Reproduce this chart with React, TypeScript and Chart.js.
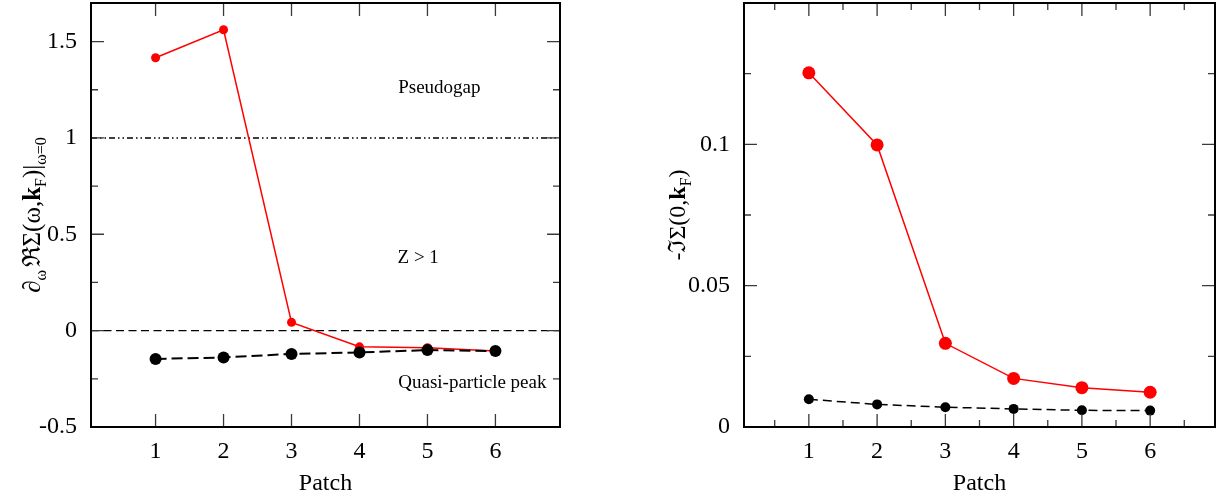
import { useEffect, useRef } from "react";
import { Chart, registerables } from "chart.js";

Chart.register(...registerables);

// Patch index along the Fermi surface
const patches = [1, 2, 3, 4, 5, 6];

// Left panel: frequency derivative of the real part of the self-energy at omega = 0
const reDerivPseudogap = [1.416, 1.561, 0.043, -0.084, -0.089, -0.106];
const reDerivQuasi = [-0.147, -0.139, -0.121, -0.113, -0.101, -0.106];

// Right panel: minus the imaginary part of the self-energy at omega = 0
const imSelfPseudogap = [0.1253, 0.0998, 0.0296, 0.0172, 0.0139, 0.0123];
const imSelfQuasi = [0.0098, 0.008, 0.007, 0.0064, 0.0059, 0.0058];

// Axis ticks
const patchTicks = [1, 2, 3, 4, 5, 6];
const patchTickLabels = ["1", "2", "3", "4", "5", "6"];
const patchMinorLeft: number[] = [];
const patchMinorRight = [0.5, 1.5, 2.5, 3.5, 4.5, 5.5, 6.5];
const leftYTicks = [-0.5, 0, 0.5, 1, 1.5];
const leftYTickLabels = ["-0.5", "0", "0.5", "1", "1.5"];
const leftYMinor = [-0.25, 0.25, 0.75, 1.25];
const rightYTicks = [0, 0.05, 0.1];
const rightYTickLabels = ["0", "0.05", "0.1"];
const rightYMinor = [0.025, 0.075, 0.125];

// Reference levels in the left panel
const unityLevel = 1;
const zeroLevel = 0;

// Region labels in the left panel
const regionLabels = ["Pseudogap", "Z > 1", "Quasi-particle peak"];
const regionLabelX = [4.57, 4.56, 4.57];
const regionLabelY = [1.231, 0.352, -0.3];

const X_MIN = 0.05;
const X_MAX = 6.95;

const SERIF = '"Liberation Serif", "Times New Roman", "DejaVu Serif", serif';
const MATH = '"Liberation Serif", "DejaVu Serif", serif';

type Seg = { text: string; px: number; bold?: boolean; dy?: number };

const leftYTitle: Seg[] = [
  { text: "\u2202", px: 25 },
  { text: "\u03c9", px: 16, dy: 6 },
  { text: " ", px: 10 },
  { text: "\u211c\u03a3(\u03c9,", px: 25 },
  { text: "k", px: 25, bold: true },
  { text: "F", px: 16, dy: 6 },
  { text: ")|", px: 25 },
  { text: "\u03c9=0", px: 16, dy: 6 },
];

const rightYTitle: Seg[] = [
  { text: "-\u2111\u03a3(0,", px: 24 },
  { text: "k", px: 24, bold: true },
  { text: "F", px: 16, dy: 6 },
  { text: ")", px: 24 },
];

const toXY = (xs: number[], ys: number[]) => xs.map((x, i) => ({ x, y: ys[i] }));

// Frame with inward major/minor ticks on all four sides
function makeFramePlugin(xMajor: number[], xMinor: number[], yMajor: number[], yMinor: number[]) {
  return {
    id: "frameTicks",
    afterDatasetsDraw(chart: any) {
      const { ctx, chartArea: a, scales } = chart;
      const xs = scales.x;
      const ys = scales.y;
      ctx.save();
      ctx.strokeStyle = "#3a3a3a";
      ctx.lineWidth = 1.3;
      const major = 13;
      const minor = 7;
      const xTick = (v: number, len: number) => {
        const px = xs.getPixelForValue(v);
        ctx.beginPath();
        ctx.moveTo(px, a.bottom);
        ctx.lineTo(px, a.bottom - len);
        ctx.moveTo(px, a.top);
        ctx.lineTo(px, a.top + len);
        ctx.stroke();
      };
      const yTick = (v: number, len: number) => {
        const py = ys.getPixelForValue(v);
        ctx.beginPath();
        ctx.moveTo(a.left, py);
        ctx.lineTo(a.left + len, py);
        ctx.moveTo(a.right, py);
        ctx.lineTo(a.right - len, py);
        ctx.stroke();
      };
      xMajor.forEach((v) => xTick(v, major));
      xMinor.forEach((v) => xTick(v, minor));
      yMajor.forEach((v) => yTick(v, major));
      yMinor.forEach((v) => yTick(v, minor));
      ctx.strokeStyle = "#000";
      ctx.lineWidth = 2;
      ctx.strokeRect(a.left, a.top, a.right - a.left, a.bottom - a.top);
      ctx.restore();
    },
  };
}

// Rotated y-axis title with subscripts and a bold vector symbol
function makeTitlePlugin(segs: Seg[], offset: number) {
  return {
    id: "richYTitle",
    afterDraw(chart: any) {
      const { ctx, chartArea: a } = chart;
      const fontOf = (s: Seg) => `${s.bold ? "bold " : ""}${s.px}px ${MATH}`;
      ctx.save();
      ctx.translate(a.left - offset, (a.top + a.bottom) / 2);
      ctx.rotate(-Math.PI / 2);
      ctx.fillStyle = "#000";
      ctx.textAlign = "left";
      ctx.textBaseline = "alphabetic";
      let total = 0;
      segs.forEach((s) => {
        ctx.font = fontOf(s);
        total += ctx.measureText(s.text).width;
      });
      let cx = -total / 2;
      segs.forEach((s) => {
        ctx.font = fontOf(s);
        ctx.fillText(s.text, cx, s.dy ?? 0);
        cx += ctx.measureText(s.text).width;
      });
      ctx.restore();
    },
  };
}

// Plain text labels placed in data coordinates
function makeTextPlugin(texts: string[], xs: number[], ys: number[]) {
  return {
    id: "regionText",
    afterDatasetsDraw(chart: any) {
      const { ctx, scales } = chart;
      ctx.save();
      ctx.fillStyle = "#000";
      ctx.font = `19px ${SERIF}`;
      ctx.textAlign = "left";
      ctx.textBaseline = "alphabetic";
      texts.forEach((t, i) => {
        ctx.fillText(t, scales.x.getPixelForValue(xs[i]), scales.y.getPixelForValue(ys[i]));
      });
      ctx.restore();
    },
  };
}

function makeOptions(p: {
  yMin: number;
  yMax: number;
  yTicks: number[];
  yLabels: string[];
  yAxisWidth: number;
  padRight: number;
}) {
  return {
    responsive: false,
    animation: false as const,
    events: [],
    layout: { autoPadding: false, padding: { left: 0, right: p.padRight, top: 3, bottom: 0 } },
    plugins: {
      legend: { display: false },
      tooltip: { enabled: false },
    },
    scales: {
      x: {
        type: "linear" as const,
        min: X_MIN,
        max: X_MAX,
        grid: { display: false },
        border: { display: false },
        afterBuildTicks: (s: any) => {
          s.ticks = patchTicks.map((v) => ({ value: v }));
        },
        afterFit: (s: any) => {
          s.height = 75;
          s.paddingLeft = 0;
          s.paddingRight = 0;
        },
        ticks: {
          color: "#000",
          padding: 2,
          maxRotation: 0,
          font: { family: SERIF, size: 24 },
          callback: (v: any) => patchTickLabels[patchTicks.indexOf(Number(v))] ?? "",
        },
        title: {
          display: true,
          text: "Patch",
          color: "#000",
          font: { family: SERIF, size: 24 },
          padding: { top: 0, bottom: 4 },
        },
      },
      y: {
        type: "linear" as const,
        min: p.yMin,
        max: p.yMax,
        grid: { display: false },
        border: { display: false },
        afterBuildTicks: (s: any) => {
          s.ticks = p.yTicks.map((v) => ({ value: v }));
        },
        afterFit: (s: any) => {
          s.width = p.yAxisWidth;
          s.paddingTop = 0;
          s.paddingBottom = 0;
        },
        ticks: {
          color: "#000",
          padding: 6,
          font: { family: SERIF, size: 24 },
          callback: (v: any) => {
            const i = p.yTicks.findIndex((t) => Math.abs(t - Number(v)) < 1e-9);
            return i >= 0 ? p.yLabels[i] : "";
          },
        },
      },
    },
  };
}

function Panel({ config, left }: { config: any; left: number }) {
  const ref = useRef<HTMLCanvasElement>(null);
  useEffect(() => {
    const chart = new Chart(ref.current as HTMLCanvasElement, config);
    return () => chart.destroy();
  }, []);
  return (
    <canvas
      ref={ref}
      width={615}
      height={502}
      style={{ position: "absolute", left, top: 0, width: 615, height: 502 }}
    />
  );
}

export default function App() {
  const leftConfig = {
    type: "line" as const,
    data: {
      datasets: [
        {
          data: toXY(patches, reDerivQuasi),
          borderColor: "#000",
          backgroundColor: "#000",
          borderWidth: 2,
          borderDash: [11, 5],
          pointRadius: 6,
          pointBorderWidth: 0,
        },
        {
          data: toXY(patches, reDerivPseudogap),
          borderColor: "#ff0000",
          backgroundColor: "#ff0000",
          borderWidth: 1.5,
          pointRadius: 4.5,
          pointBorderWidth: 0,
        },
        {
          data: toXY([X_MIN, X_MAX], [unityLevel, unityLevel]),
          borderColor: "#000",
          borderWidth: 1.5,
          borderDash: [6, 3, 1.5, 3, 1.5, 3],
          pointRadius: 0,
        },
        {
          data: toXY([X_MIN, X_MAX], [zeroLevel, zeroLevel]),
          borderColor: "#000",
          borderWidth: 1.3,
          borderDash: [8, 4.5],
          pointRadius: 0,
        },
      ],
    },
    options: makeOptions({
      yMin: -0.5,
      yMax: 1.7,
      yTicks: leftYTicks,
      yLabels: leftYTickLabels,
      yAxisWidth: 91,
      padRight: 55,
    }),
    plugins: [
      makeFramePlugin(patchTicks, patchMinorLeft, leftYTicks, leftYMinor),
      makeTitlePlugin(leftYTitle, 51),
      makeTextPlugin(regionLabels, regionLabelX, regionLabelY),
    ],
  };

  const rightConfig = {
    type: "line" as const,
    data: {
      datasets: [
        {
          data: toXY(patches, imSelfQuasi),
          borderColor: "#000",
          backgroundColor: "#000",
          borderWidth: 1.5,
          borderDash: [9, 5],
          pointRadius: 5,
          pointBorderWidth: 0,
        },
        {
          data: toXY(patches, imSelfPseudogap),
          borderColor: "#ff0000",
          backgroundColor: "#ff0000",
          borderWidth: 1.5,
          pointRadius: 6.5,
          pointBorderWidth: 0,
        },
      ],
    },
    options: makeOptions({
      yMin: 0,
      yMax: 0.15,
      yTicks: rightYTicks,
      yLabels: rightYTickLabels,
      yAxisWidth: 129,
      padRight: 15,
    }),
    plugins: [
      makeFramePlugin(patchTicks, patchMinorRight, rightYTicks, rightYMinor),
      makeTitlePlugin(rightYTitle, 59),
    ],
  };

  return (
    <div style={{ position: "fixed", left: 0, top: 0, width: 1230, height: 502, background: "#fff" }}>
      <Panel config={leftConfig} left={0} />
      <Panel config={rightConfig} left={615} />
    </div>
  );
}
